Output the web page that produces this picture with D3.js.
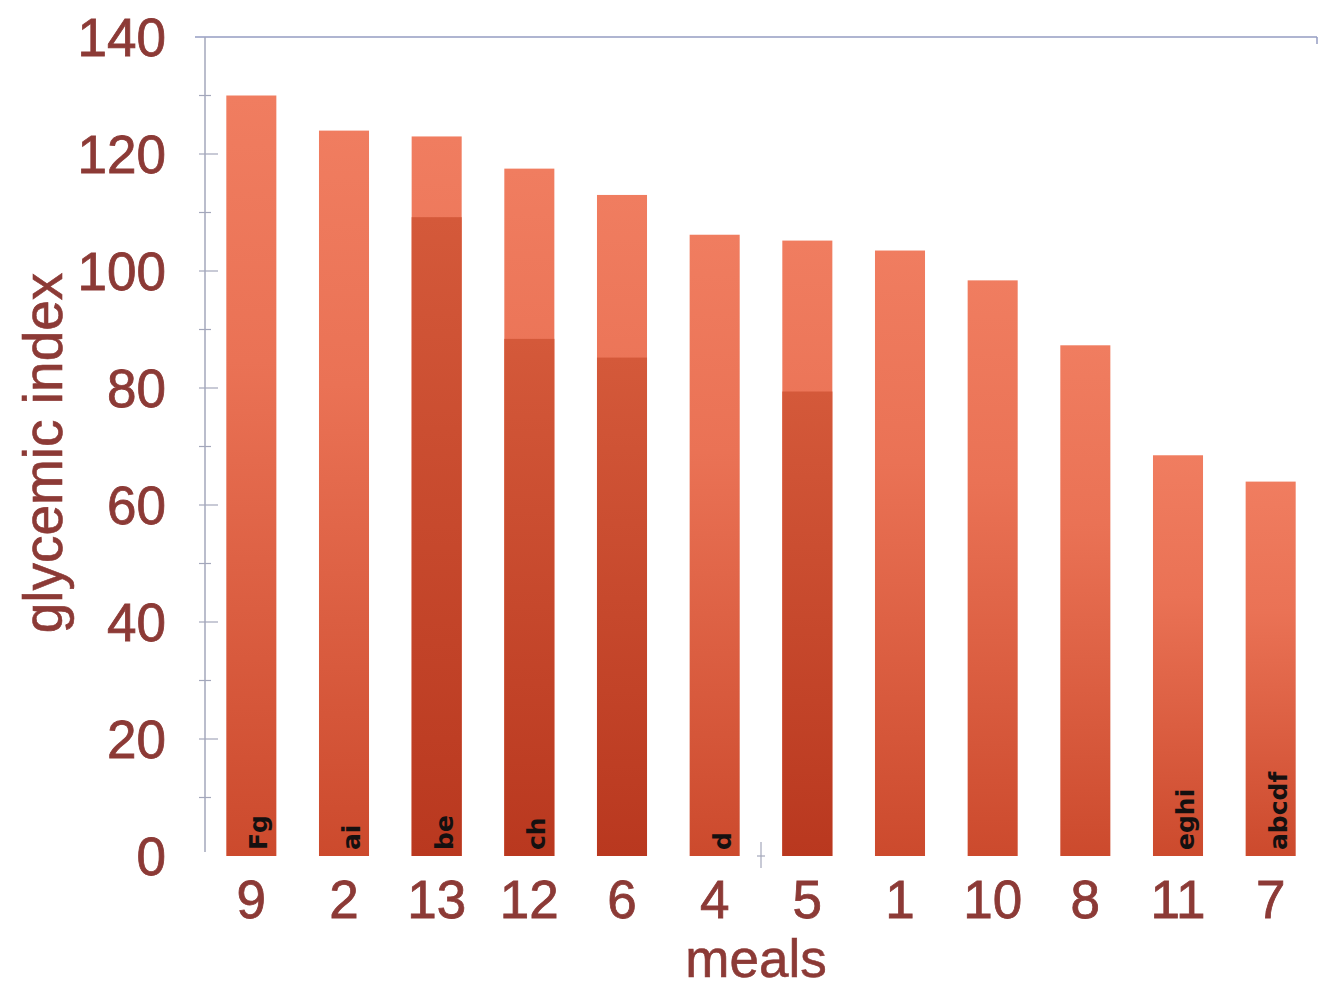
<!DOCTYPE html>
<html>
<head>
<meta charset="utf-8">
<script src="https://cdn.jsdelivr.net/npm/d3@7"></script>
<style>
  html, body { margin: 0; padding: 0; background: #ffffff; }
  svg { display: block; }
</style>
</head>
<body>
<svg id="chart" width="1328" height="989"></svg>
<script>
// Meals, sorted by glycemic index
const meals = ["9", "2", "13", "12", "6", "4", "5", "1", "10", "8", "11", "7"];
const glycemicIndex = [130, 124, 123, 117.5, 113, 106.2, 105.2, 103.5, 98.4, 87.3, 68.5, 64];
// Lower repeat measurement shown as a darker band inside some bars
const repeatIndex = [null, null, 109.2, 88.4, 85.2, null, 79.4, null, null, null, null, null];
// Handwritten group letters at the foot of each bar
const groupLetters = ["Fg", "ai", "be", "ch", "", "d", "", "", "", "", "eghi", "abcdf"];
const yTicks = [0, 20, 40, 60, 80, 100, 120, 140];
const yMinorTicks = [10, 30, 50, 70, 90, 110, 130];

const svg = d3.select("#chart");
const labelColor = "#8c3a36";
const axisColor = "#a3a7bb";

const x = d3.scaleBand().domain(meals).range([205, 1317]).paddingInner(0.46).paddingOuter(0.23);
const y = d3.scaleLinear().domain([0, 140]).range([856, 37]);

const defs = svg.append("defs");
const gLight = defs.append("linearGradient").attr("id", "barLight")
  .attr("x1", 0).attr("y1", 0).attr("x2", 0).attr("y2", 1);
gLight.append("stop").attr("offset", "0%").attr("stop-color", "#f07d60");
gLight.append("stop").attr("offset", "35%").attr("stop-color", "#ea7255");
gLight.append("stop").attr("offset", "100%").attr("stop-color", "#cc4a2d");

const gDark = defs.append("linearGradient").attr("id", "barDark")
  .attr("x1", 0).attr("y1", 0).attr("x2", 0).attr("y2", 1);
gDark.append("stop").attr("offset", "0%").attr("stop-color", "#d4593a");
gDark.append("stop").attr("offset", "100%").attr("stop-color", "#b9381f");

const data = meals.map((m, i) => ({ meal: m, gi: glycemicIndex[i], rep: repeatIndex[i], letters: groupLetters[i] }));

// Top frame line with a small end tick
svg.append("line").attr("x1", 195).attr("x2", x.range()[1]).attr("y1", y(140)).attr("y2", y(140))
  .attr("stroke", "#959cc2").attr("stroke-width", 1.5);
svg.append("line").attr("x1", x.range()[1]).attr("x2", x.range()[1]).attr("y1", y(140)).attr("y2", y(140) + 7)
  .attr("stroke", "#959cc2").attr("stroke-width", 1.5);

// Left axis line and ticks
svg.append("line").attr("x1", 205).attr("x2", 205).attr("y1", y(140)).attr("y2", y(0) - 4)
  .attr("stroke", axisColor).attr("stroke-width", 1.5);
svg.selectAll(".tick-major").data(yTicks.filter(d => d > 0 && d < 140)).enter().append("line")
  .attr("x1", 199).attr("x2", 218).attr("y1", d => y(d)).attr("y2", d => y(d))
  .attr("stroke", axisColor).attr("stroke-width", 1.2);
svg.selectAll(".tick-minor").data(yMinorTicks).enter().append("line")
  .attr("x1", 199).attr("x2", 211).attr("y1", d => y(d)).attr("y2", d => y(d))
  .attr("stroke", axisColor).attr("stroke-width", 1.2);

// Category boundary tick between meals 4 and 5
const bx = (x("4") + x.bandwidth() + x("5")) / 2;
svg.append("line").attr("x1", bx).attr("x2", bx).attr("y1", y(0) - 14).attr("y2", y(0) + 12)
  .attr("stroke", axisColor).attr("stroke-width", 1.2);
svg.append("line").attr("x1", bx - 4).attr("x2", bx + 4).attr("y1", y(0)).attr("y2", y(0))
  .attr("stroke", axisColor).attr("stroke-width", 1.2);

// Bars
svg.selectAll(".bar").data(data).enter().append("rect")
  .attr("x", d => x(d.meal)).attr("width", x.bandwidth())
  .attr("y", d => y(d.gi)).attr("height", d => y(0) - y(d.gi))
  .attr("fill", "url(#barLight)");

svg.selectAll(".bar-rep").data(data.filter(d => d.rep != null)).enter().append("rect")
  .attr("x", d => x(d.meal)).attr("width", x.bandwidth())
  .attr("y", d => y(d.rep)).attr("height", d => y(0) - y(d.rep))
  .attr("fill", "url(#barDark)");

// Group letters
svg.selectAll(".letters").data(data.filter(d => d.letters)).enter().append("text")
  .attr("transform", d => `translate(${x(d.meal) + x.bandwidth() / 2 + 16},${y(0) - 6}) rotate(-90)`)
  .attr("text-anchor", "start")
  .attr("font-family", "DejaVu Sans, sans-serif")
  .attr("font-weight", "bold")
  .attr("font-size", 25)
  .attr("fill", "#141010")
  .text(d => d.letters);

// Y tick labels
svg.selectAll(".ylab").data(yTicks).enter().append("text")
  .attr("x", 166).attr("y", d => y(d)).attr("dy", "0.35em")
  .attr("text-anchor", "end")
  .attr("font-family", "Liberation Sans, Arial, sans-serif")
  .attr("font-size", 53)
  .attr("fill", labelColor)
  .attr("stroke", labelColor).attr("stroke-width", 0.8)
  .text(d => d);

// X tick labels
svg.selectAll(".xlab").data(meals).enter().append("text")
  .attr("x", d => x(d) + x.bandwidth() / 2).attr("y", 918)
  .attr("text-anchor", "middle")
  .attr("font-family", "Liberation Sans, Arial, sans-serif")
  .attr("font-size", 53)
  .attr("fill", labelColor)
  .attr("stroke", labelColor).attr("stroke-width", 0.8)
  .text(d => d);

// Axis titles
svg.append("text")
  .attr("transform", "translate(62,453) rotate(-90)")
  .attr("text-anchor", "middle")
  .attr("font-family", "Liberation Sans, Arial, sans-serif")
  .attr("font-size", 55)
  .attr("fill", labelColor)
  .attr("stroke", labelColor).attr("stroke-width", 0.6)
  .text("glycemic index");

svg.append("text")
  .attr("x", 756).attr("y", 977)
  .attr("text-anchor", "middle")
  .attr("font-family", "Liberation Sans, Arial, sans-serif")
  .attr("font-size", 53)
  .attr("fill", labelColor)
  .attr("stroke", labelColor).attr("stroke-width", 0.6)
  .text("meals");
</script>
</body>
</html>
